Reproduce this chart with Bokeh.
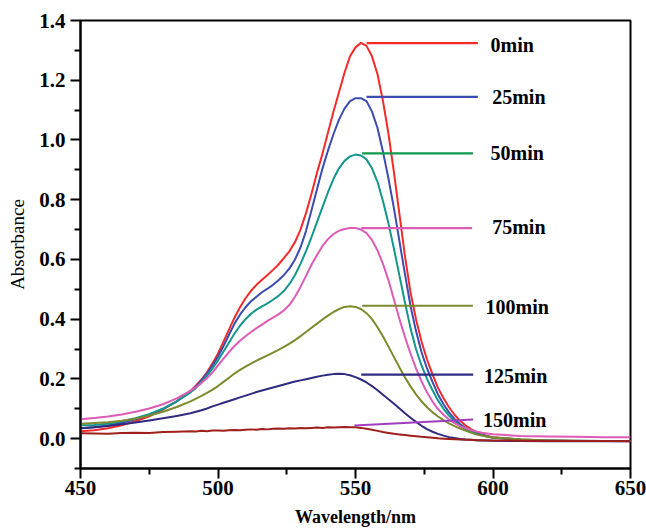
from bokeh.plotting import figure
from bokeh.models import FixedTicker, PrintfTickFormatter
from bokeh.core.properties import value
from bokeh.embed import file_html
from bokeh.resources import INLINE

# ---------------- data ----------------
wavelength = [450, 455, 460, 465, 470, 475, 480, 485, 490,
              492, 494, 496, 498, 500, 502, 504, 506, 508, 510,
              512, 514, 516, 518, 520, 522, 524, 526, 528, 530,
              532, 534, 536, 538, 540, 542, 544, 546, 548, 550,
              552, 554, 556, 558, 560, 562, 564, 566, 568, 570,
              572, 574, 576, 578, 580, 582, 584, 586, 588, 590,
              592, 594, 596, 598, 600,
              610, 620, 630, 640, 650]

abs_0min = [0.025, 0.028, 0.035, 0.045, 0.058, 0.075, 0.098, 0.125, 0.16,
            0.178, 0.198, 0.222, 0.252, 0.285, 0.325, 0.365, 0.405, 0.44, 0.47,
            0.495, 0.515, 0.532, 0.548, 0.565, 0.583, 0.605, 0.628, 0.658, 0.70,
            0.755, 0.82, 0.89, 0.955, 1.025, 1.095, 1.16, 1.225, 1.28, 1.31,
            1.325, 1.315, 1.28, 1.22, 1.13, 1.02, 0.89, 0.75, 0.61, 0.49,
            0.40, 0.325, 0.265, 0.215, 0.17, 0.135, 0.105, 0.08, 0.06, 0.045,
            0.032, 0.022, 0.015, 0.009, 0.005,
            -0.003, -0.006, -0.008, -0.008, -0.008]
abs_25min = [0.035, 0.038, 0.044, 0.053, 0.065, 0.08, 0.10, 0.125, 0.158,
             0.175, 0.195, 0.218, 0.245, 0.275, 0.31, 0.348, 0.385, 0.415, 0.44,
             0.46, 0.475, 0.49, 0.502, 0.515, 0.53, 0.548, 0.57, 0.60, 0.64,
             0.695, 0.765, 0.835, 0.905, 0.965, 1.02, 1.068, 1.105, 1.13, 1.14,
             1.14, 1.13, 1.095, 1.04, 0.96, 0.87, 0.77, 0.66, 0.55, 0.445,
             0.36, 0.29, 0.235, 0.19, 0.148, 0.115, 0.088, 0.066, 0.049, 0.036,
             0.026, 0.018, 0.012, 0.007, 0.003,
             -0.004, -0.007, -0.008, -0.008, -0.008]
abs_50min = [0.045, 0.046, 0.05, 0.058, 0.068, 0.082, 0.10, 0.125, 0.155,
             0.17, 0.19, 0.21, 0.235, 0.262, 0.292, 0.322, 0.352, 0.378, 0.40,
             0.418, 0.432, 0.443, 0.453, 0.465, 0.478, 0.495, 0.518, 0.548, 0.585,
             0.628, 0.675, 0.725, 0.775, 0.825, 0.87, 0.905, 0.93, 0.945, 0.951,
             0.948, 0.935, 0.905, 0.86, 0.795, 0.72, 0.635, 0.545, 0.455, 0.37,
             0.30, 0.245, 0.20, 0.162, 0.128, 0.10, 0.077, 0.058, 0.043, 0.032,
             0.023, 0.016, 0.011, 0.007, 0.004,
             -0.003, -0.006, -0.007, -0.008, -0.008]
abs_75min = [0.065, 0.069, 0.074, 0.081, 0.09, 0.101, 0.115, 0.135, 0.16,
             0.172, 0.186, 0.203, 0.222, 0.245, 0.268, 0.29, 0.31, 0.328, 0.343,
             0.357, 0.37, 0.382, 0.394, 0.405, 0.416, 0.43, 0.448, 0.475, 0.508,
             0.545, 0.582, 0.615, 0.645, 0.668, 0.685, 0.696, 0.702, 0.705, 0.705,
             0.70, 0.688, 0.665, 0.63, 0.585, 0.53, 0.465, 0.40, 0.34, 0.285,
             0.235, 0.192, 0.155, 0.124, 0.099, 0.08, 0.064, 0.052, 0.042, 0.035,
             0.029, 0.024, 0.02, 0.017, 0.015,
             0.009, 0.007, 0.006, 0.005, 0.005]
abs_100min = [0.05, 0.052, 0.055, 0.06, 0.067, 0.077, 0.09, 0.106, 0.125,
              0.134, 0.143, 0.153, 0.164, 0.176, 0.19, 0.204, 0.218, 0.23, 0.241,
              0.251, 0.261, 0.27, 0.279, 0.288, 0.297, 0.307, 0.318, 0.33, 0.343,
              0.357, 0.371, 0.385, 0.399, 0.412, 0.424, 0.434, 0.441, 0.443, 0.441,
              0.434, 0.42, 0.40, 0.373, 0.342, 0.308, 0.273, 0.238, 0.205, 0.175,
              0.148, 0.125, 0.105, 0.088, 0.074, 0.062, 0.051, 0.042, 0.034, 0.027,
              0.02, 0.014, 0.01, 0.006, 0.004,
              -0.003, -0.006, -0.007, -0.008, -0.008]
abs_125min = [0.035, 0.038, 0.042, 0.048, 0.054, 0.061, 0.068, 0.076, 0.085,
              0.09, 0.095, 0.101, 0.108, 0.114, 0.12, 0.126, 0.132, 0.138, 0.144,
              0.15, 0.156, 0.161, 0.166, 0.171, 0.176, 0.181, 0.186, 0.191, 0.195,
              0.199, 0.203, 0.207, 0.211, 0.214, 0.216, 0.217, 0.216, 0.212, 0.206,
              0.198, 0.188, 0.176, 0.162, 0.147, 0.132, 0.117, 0.101, 0.085, 0.07,
              0.056, 0.043, 0.032, 0.023, 0.016, 0.01, 0.005, 0.002, -0.001, -0.003,
              -0.004, -0.005, -0.006, -0.006, -0.007,
              -0.008, -0.009, -0.009, -0.009, -0.009]
abs_150min = [0.018, 0.017, 0.016, 0.019, 0.02, 0.019, 0.022, 0.023, 0.025,
              0.024, 0.026, 0.025, 0.027, 0.027, 0.026, 0.028, 0.029, 0.028, 0.03,
              0.031, 0.03, 0.032, 0.031, 0.033, 0.034, 0.033, 0.035, 0.034, 0.036,
              0.035, 0.036, 0.037, 0.036, 0.038, 0.037, 0.038, 0.039, 0.038, 0.038,
              0.036, 0.033, 0.03, 0.026, 0.022, 0.019, 0.016, 0.014, 0.012, 0.01,
              0.008, 0.006, 0.005, 0.003, 0.001, 0.0, -0.001, -0.002, -0.003, -0.004,
              -0.004, -0.005, -0.005, -0.006, -0.006,
              -0.007, -0.008, -0.008, -0.008, -0.009]

series_labels = ["0min", "25min", "50min", "75min", "100min", "125min", "150min"]
series_values = [abs_0min, abs_25min, abs_50min, abs_75min, abs_100min, abs_125min, abs_150min]

x_ticks = [450, 500, 550, 600, 650]
x_minor_ticks = [475, 525, 575, 625]
y_ticks = [0.0, 0.2, 0.4, 0.6, 0.8, 1.0, 1.2, 1.4]
y_minor_ticks = [-0.1, 0.1, 0.3, 0.5, 0.7, 0.9, 1.1, 1.3]

# ---------------- styles / label layout ----------------
curve_colors = ["#F52A2A", "#3B4DAE", "#14968C", "#DC5CB6", "#7D8A2D", "#2E2B80", "#9E1F1C"]
label_line_colors = ["#F52A2A", "#3B4DAE", "#0E9A4A", "#DC5CB6", "#7D8A2D", "#2E2B80", "#A03DBE"]
lead_x0 = [554.0, 554.0, 552.4, 552.1, 552.4, 552.1, 549.6]
lead_x1 = [594.5, 594.5, 592.7, 592.4, 592.7, 592.8, 592.8]
lead_y0 = [1.324, 1.144, 0.955, 0.705, 0.445, 0.214, 0.044]
lead_y1 = [1.324, 1.144, 0.955, 0.705, 0.445, 0.214, 0.064]
text_x = [599.1, 599.7, 599.1, 599.7, 597.3, 596.7, 596.4]
text_y = [1.318, 1.143, 0.957, 0.707, 0.442, 0.211, 0.064]

FONT = "Liberation Serif"

p = figure(width=646, height=529, x_range=(450, 650), y_range=(-0.1, 1.4),
           output_backend="svg", toolbar_location=None,
           min_border_left=80, min_border_right=16, min_border_top=20, min_border_bottom=61)
p.background_fill_color = "white"
p.border_fill_color = "white"
p.grid.visible = False
p.outline_line_color = "black"
p.outline_line_width = 2

for vals, col in zip(series_values, curve_colors):
    p.line(wavelength, vals, line_color=col, line_width=2, line_join="round")

p.segment(x0=lead_x0, y0=lead_y0, x1=lead_x1, y1=lead_y1, line_color=label_line_colors, line_width=2.2)
p.text(x=text_x, y=text_y, text=series_labels, text_font=value(FONT), text_font_style="bold",
       text_font_size="20px", text_baseline="middle", text_align="left", text_color="black")

for ax in (p.xaxis[0], p.yaxis[0]):
    ax.axis_line_width = 2
    ax.axis_line_color = "black"
    ax.major_tick_line_width = 2
    ax.minor_tick_line_width = 2
    ax.major_tick_in = 0
    ax.major_tick_out = 10
    ax.minor_tick_in = 0
    ax.minor_tick_out = 6
    ax.major_label_text_font = FONT
    ax.major_label_text_font_style = "bold"
    ax.major_label_text_font_size = "21px"
    ax.major_label_text_color = "black"
    ax.axis_label_text_font = FONT
    ax.axis_label_text_color = "black"

p.xaxis[0].ticker = FixedTicker(ticks=x_ticks, minor_ticks=x_minor_ticks)
p.yaxis[0].ticker = FixedTicker(ticks=y_ticks, minor_ticks=y_minor_ticks)
p.yaxis[0].formatter = PrintfTickFormatter(format="%.1f")

p.xaxis[0].axis_label = "Wavelength/nm"
p.xaxis[0].axis_label_text_font_style = "bold"
p.xaxis[0].axis_label_text_font_size = "18px"
p.xaxis[0].major_label_standoff = 2
p.xaxis[0].axis_label_standoff = 9

p.yaxis[0].axis_label = "Absorbance"
p.yaxis[0].axis_label_text_font_style = "normal"
p.yaxis[0].axis_label_text_font_size = "19px"
p.yaxis[0].major_label_standoff = 5
p.yaxis[0].axis_label_standoff = 8

open("out.html", "w").write(file_html(p, INLINE))
